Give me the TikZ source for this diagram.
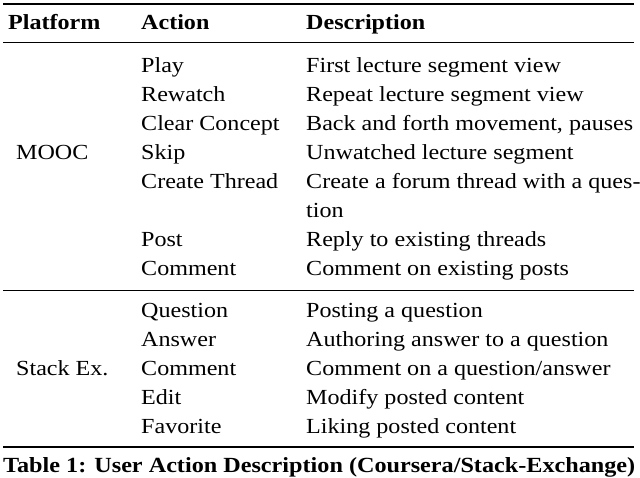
\documentclass[tikz,border=0pt]{standalone}
\usepackage{fontspec}
\setmainfont{Liberation Serif}[FakeStretch=1.12]
\begin{document}
\begin{tikzpicture}[x=1pt,y=-1pt,
  t/.style={anchor=base west,inner sep=0pt,font=\fontsize{21.5}{24}\selectfont},
  h/.style={t,font=\fontsize{21.5}{24}\selectfont\bfseries},
  rule/.style={line width=#1}]
\useasboundingbox (0,0) rectangle (640,477);
\draw[rule=1.2pt] (3,4) -- (634,4);
\draw[rule=0.6pt] (3,42) -- (634,42);
\draw[rule=0.6pt] (3,290) -- (634,290);
\draw[rule=1.2pt] (3,447) -- (634,447);
\node[h] (h1) at (8,29) {Platform};
\node[h] (h2) at (141,29) {Action};
\node[h] (h3) at (306,29) {Description};
\node[t] (m) at (16,159) {MOOC};
\node[t] (s) at (16,375) {Stack Ex.};
\foreach \y/\a/\d [count=\i] in {
 72/Play/First lecture segment view,
 101/Rewatch/Repeat lecture segment view,
 130/Clear Concept/{Back and forth movement, pauses},
 159/Skip/Unwatched lecture segment,
 188/Create Thread/Create a forum thread with a ques-,
 246/Post/Reply to existing threads,
 275/Comment/Comment on existing posts,
 317/Question/Posting a question,
 346/Answer/Authoring answer to a question,
 375/Comment/Comment on a question\slash answer,
 404/Edit/Modify posted content,
 433/Favorite/Liking posted content}{
 \node[t] (a\i) at (141,\y) {\a};
 \node[t] (d\i) at (306,\y) {\d};
}
\node[t] (d5b) at (306,217) {tion};
\node[h,font=\fontsize{21.6}{24}\selectfont\bfseries] (cap) at (3,472) {Table 1: User Action Description (Coursera/Stack-Exchange)};
\end{tikzpicture}
\end{document}
